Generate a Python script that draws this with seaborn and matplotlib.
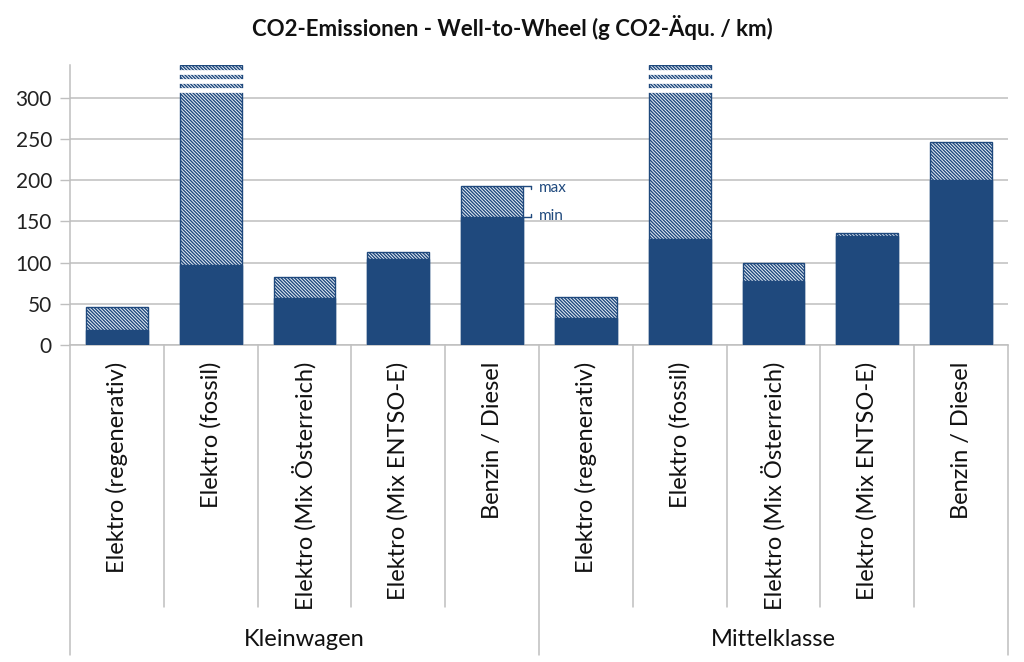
import numpy as np
import pandas as pd
import matplotlib
matplotlib.use("Agg")
import matplotlib.pyplot as plt
import matplotlib.transforms as mtransforms
import seaborn as sns

# ---------------- data ----------------
groups = ["Kleinwagen", "Mittelklasse"]
categories = ["Elektro (regenerativ)", "Elektro (fossil)", "Elektro (Mix Österreich)",
              "Elektro (Mix ENTSO-E)", "Benzin / Diesel"]
min_klein = [18, 97, 57, 105, 155]
max_klein = [46, 340, 83, 113, 193]     # fossil: off-scale (axis break)
min_mittel = [33, 129, 78, 132, 200]
max_mittel = [58, 340, 100, 136, 247]   # fossil: off-scale (axis break)
y_ticks = [0, 50, 100, 150, 200, 250, 300]
title = "CO2-Emissionen - Well-to-Wheel (g CO2-Äqu. / km)"

# ---------------- table ----------------
rows = []
for g, mins, maxs in [(groups[0], min_klein, max_klein), (groups[1], min_mittel, max_mittel)]:
    for c, lo, hi in zip(categories, mins, maxs):
        rows.append({"group": g, "category": c, "key": f"{g}|{c}", "min": lo, "max": hi})
df = pd.DataFrame(rows)

DARK = "#1F497D"
GRID = "#BFBFBF"

sns.set_theme(style="white")
plt.rcParams["font.family"] = ["Lato", "DejaVu Sans"]
plt.rcParams["hatch.linewidth"] = 1.0
plt.rcParams["hatch.color"] = DARK

fig = plt.figure(figsize=(10.24, 6.62), dpi=100)
ax = fig.add_axes([70 / 1024, 1 - 345 / 662, (1008 - 70) / 1024, (345 - 65) / 662])

order = list(df["key"])
sns.barplot(data=df, x="key", y="max", order=order, ax=ax, color="#EEF3FA",
            width=0.66, saturation=1, edgecolor=DARK, linewidth=1.0, zorder=2)
for p in ax.patches:
    p.set_hatch("\\" * 10)
n_max = len(ax.patches)
sns.barplot(data=df, x="key", y="min", order=order, ax=ax, color=DARK,
            width=0.66, saturation=1, edgecolor=DARK, linewidth=1.0, zorder=3)

ax.set_ylim(0, 340)
ax.set_xlim(-0.5, len(order) - 0.5)
ax.set_yticks(y_ticks)
ax.set_yticklabels([str(v) for v in y_ticks], fontsize=15, color="#222222")
ax.tick_params(axis="y", length=7, width=1, color=GRID, left=True, pad=6)
ax.yaxis.grid(True, color=GRID, linewidth=1.1, zorder=0)
ax.set_axisbelow(True)

ax.set_xticks(range(len(order)))
ax.set_xticklabels(list(df["category"]), rotation=90, fontsize=17, color="#111111",
                   va="top", ha="center")
ax.tick_params(axis="x", length=0, pad=12)
ax.set_xlabel("")
ax.set_ylabel("")

for s in ["top", "right"]:
    ax.spines[s].set_visible(False)
for s in ["left", "bottom"]:
    ax.spines[s].set_color(GRID)
    ax.spines[s].set_linewidth(1.1)

# axis break marks on off-scale bars (white bands across the hatched bars)
top = ax.get_ylim()[1]
for i, p in enumerate(ax.patches[:n_max]):
    if df["max"].iloc[i] >= top:
        x0, x1 = p.get_x(), p.get_x() + p.get_width()
        for off in (8.5, 19.5, 30.5):
            ax.hlines(top - off, x0 - 0.02, x1 + 0.02, color="white", linewidth=3.4, zorder=4)

# category separators
trans = mtransforms.blended_transform_factory(ax.transData, ax.transAxes)
n = len(order)
per = len(categories)
for k in range(n + 1):
    xb = k - 0.5
    outer = (k % per == 0)
    ax.plot([xb, xb], [0, -1.107 if outer else -0.936], transform=trans,
            color=GRID, linewidth=1.1, clip_on=False, zorder=1)

# group labels
for gi, g in enumerate(groups):
    xc = gi * per + (per - 1) / 2
    ax.text(xc, -1.05, g, transform=trans, ha="center", va="center",
            fontsize=17, color="#111111")

# min / max annotation on Kleinwagen Benzin / Diesel
bi = per - 1
bp = ax.patches[bi]
xr = bp.get_x() + bp.get_width()
for val, lab, dy in [(df["max"].iloc[bi], "max", -4), (df["min"].iloc[bi], "min", 4)]:
    ax.plot([xr, xr + 0.08], [val, val], color=DARK, linewidth=1.0, zorder=5, clip_on=False)
    ax.plot([xr + 0.08, xr + 0.08], [val, val + dy], color=DARK, linewidth=1.0, zorder=5)
    ax.text(xr + 0.17, val - 2 if lab == "max" else val + 2, lab, ha="left", va="center",
            fontsize=11, color=DARK)

fig.text(512 / 1024, 1 - 27 / 662, title, ha="center", va="center",
         fontsize=16, fontweight="bold", color="#111111")

fig.savefig("out.png", dpi=100)
